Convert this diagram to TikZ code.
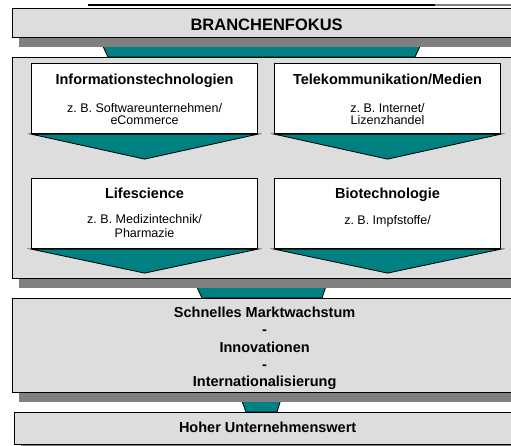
\documentclass[tikz,border=0pt]{standalone}
\usepackage{fontspec}
\setmainfont{Liberation Sans}
\usetikzlibrary{positioning, shadows}
\definecolor{petrol}{HTML}{008080}
\definecolor{panelgray}{HTML}{DDDDDD}
\definecolor{shadowgray}{HTML}{808080}
\tikzstyle{panel} = [draw, line width=1.3pt, fill=panelgray, rectangle, inner sep=0pt, anchor=north west, drop shadow={shadow xshift=6pt, shadow yshift=-9pt, fill=shadowgray, opacity=1}]
\tikzstyle{card} = [draw, line width=1.1pt, fill=white, rectangle, inner sep=0pt, anchor=north west, minimum width=226pt, minimum height=70pt]
\tikzstyle{funnel} = [draw, line width=0.8pt, fill=petrol]
\tikzstyle{headline} = [inner sep=0pt, anchor=base, font=\fontsize{14.5}{17}\selectfont\bfseries]
\tikzstyle{hint} = [inner sep=0pt, anchor=north, align=center, font=\fontsize{12.5}{11.8}\selectfont]
\newcommand{\zb}{z.\ B.\ }

\begin{document}
\begin{tikzpicture}[x=1pt, y=-1pt]
    \useasboundingbox (0,0) rectangle (511,445);
    \clip (0,0) rectangle (511,445);
    % rest of the stage above
    \draw[line width=1.4pt] (88,5) -- (435,5);
    \draw[shadowgray, line width=1.4pt] (435,5) -- (520,5);
    % funnels between the stages
    \draw[funnel] (100,40) -- (423,40) -- (415,57) -- (108,57) -- cycle;
    \draw[funnel] (195,283) -- (327,283) -- (322,298) -- (202,298) -- cycle;
    \draw[funnel] (240,396) -- (282,396) -- (277,412) -- (246,412) -- cycle;
    % stages
    \node[panel, minimum width=508pt, minimum height=29pt] (focus) at (12,8) {};
    \node[panel, minimum width=506pt, minimum height=221pt] (sectors) at (12,57) {};
    \node[panel, minimum width=504pt, minimum height=94pt] (drivers) at (12,298) {};
    \node[panel, minimum width=506pt, minimum height=32pt] (value) at (14,412) {};
    \node[headline, font=\fontsize{16.5}{19}\selectfont\bfseries] (focusText) at ([yshift=-22pt]focus.north) {BRANCHENFOKUS};
    \node[headline, anchor=north, align=center, font=\fontsize{14.5}{17.2}\selectfont\bfseries] (driversText) at ([yshift=-9pt]drivers.north) {Schnelles Marktwachstum\\-\\Innovationen\\-\\Internationalisierung};
    \node[headline] (valueText) at ([yshift=-20pt]value.north) {Hoher Unternehmenswert};
    % sectors
    \node[card] (it) at (31,63) {};
    \node[card] (tk) at (274,63) {};
    \node[card] (ls) at (31,178) {};
    \node[card] (bt) at (274,178) {};
    \draw[funnel] (it.south west) -- ([yshift=-25pt]it.south) -- (it.south east) -- cycle;
    \draw[funnel] (tk.south west) -- ([yshift=-25pt]tk.south) -- (tk.south east) -- cycle;
    \draw[funnel] (ls.south west) -- ([yshift=-24pt]ls.south) -- (ls.south east) -- cycle;
    \draw[funnel] (bt.south west) -- ([yshift=-24pt]bt.south) -- (bt.south east) -- cycle;
    \node[headline] (itHead) at ([yshift=-21pt]it.north) {Informationstechnologien};
    \node[hint] (itHint) at ([yshift=-40pt]it.north) {\zb Softwareunternehmen/\\eCommerce};
    \node[headline] (tkHead) at ([yshift=-21pt]tk.north) {Telekommunikation/Medien};
    \node[hint] (tkHint) at ([yshift=-40pt]tk.north) {\zb Internet/\\Lizenzhandel};
    \node[headline] (lsHead) at ([yshift=-20pt]ls.north) {Lifescience};
    \node[hint] (lsHint) at ([yshift=-36pt]ls.north) {\zb Medizintechnik/\\[2.5pt]Pharmazie};
    \node[headline] (btHead) at ([yshift=-20pt]bt.north) {Biotechnologie};
    \node[hint] (btHint) at ([yshift=-37pt]bt.north) {\zb Impfstoffe/};
\end{tikzpicture}
\end{document}
